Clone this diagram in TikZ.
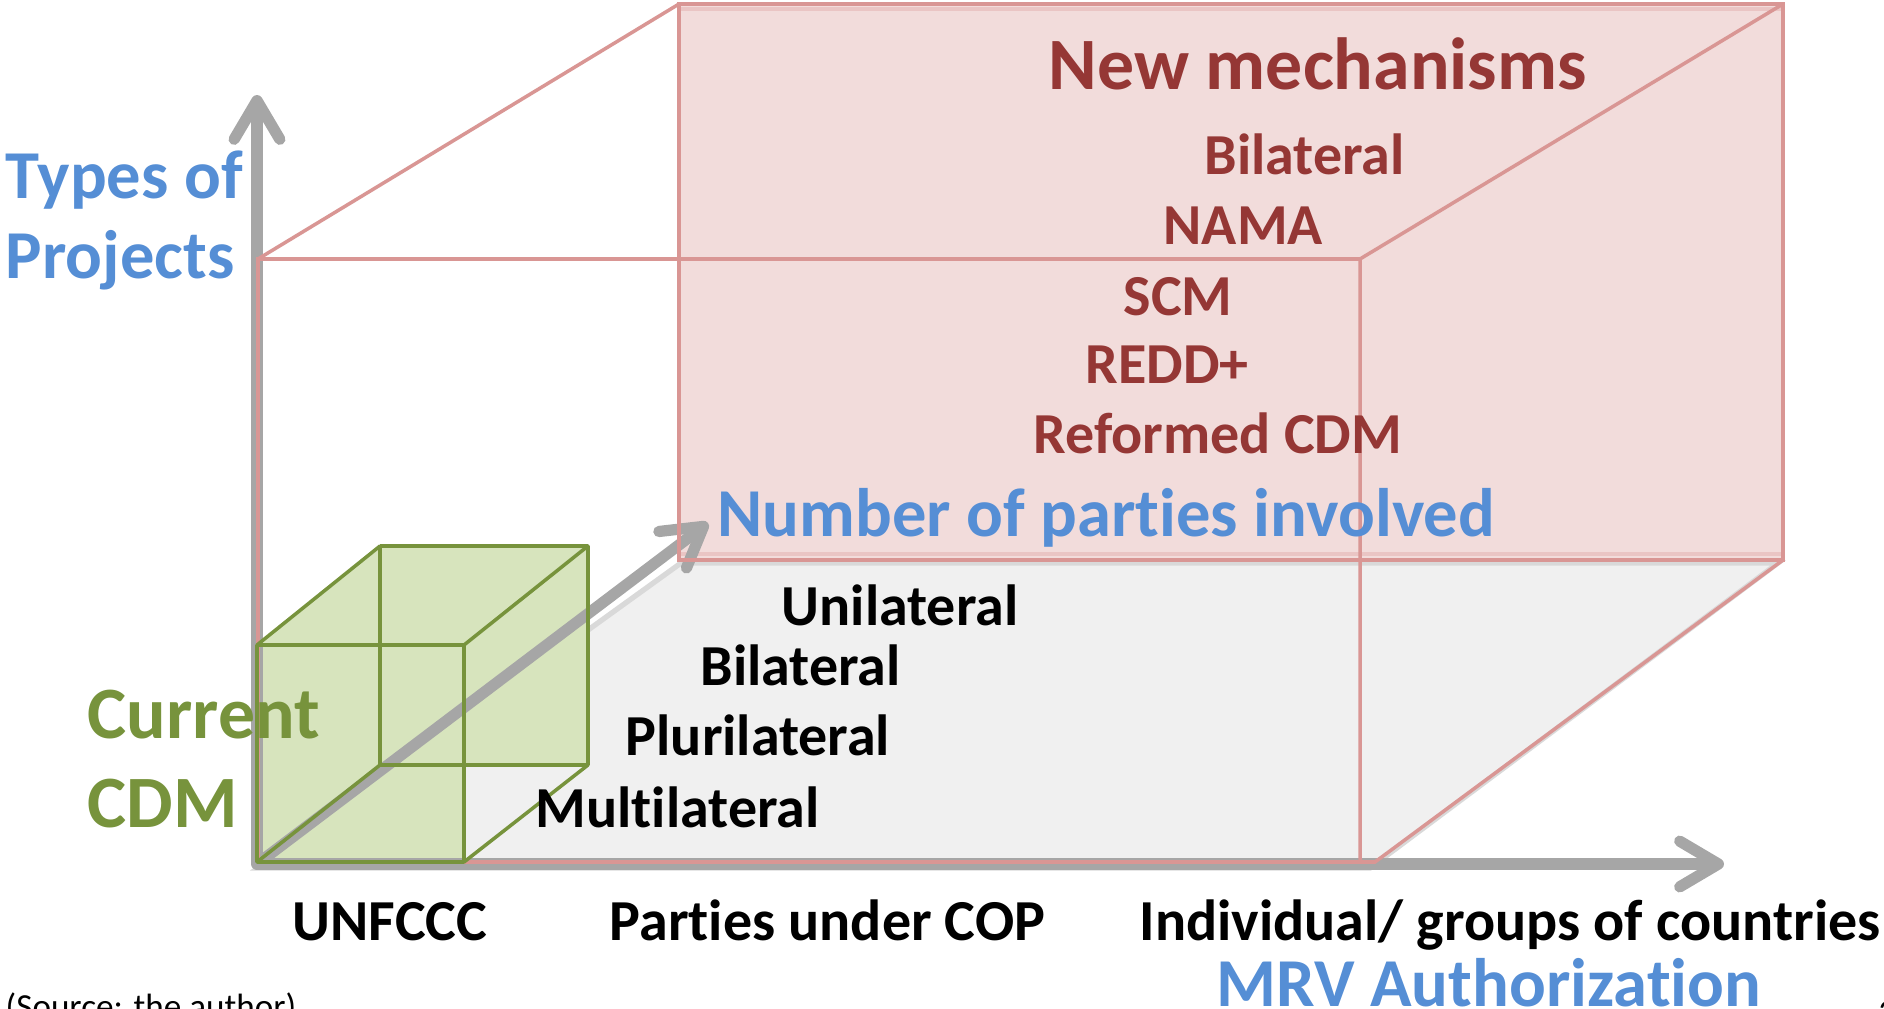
\documentclass[tikz,border=0pt]{standalone}
\usepackage{fontspec}
\setmainfont{Carlito}[RawFeature={-liga;-clig;-calt;-dlig}]
\usetikzlibrary{arrows.meta}
\definecolor{axisgrey}{HTML}{A6A6A6}
\definecolor{boxpink}{HTML}{D99694}
\definecolor{boxfill}{HTML}{F2DCDB}
\definecolor{cdmgreen}{HTML}{77933C}
\definecolor{cdmfill}{HTML}{D7E4BD}
\definecolor{floorfill}{HTML}{F0F0F0}
\definecolor{floorline}{HTML}{D9D9D9}
\definecolor{axisblue}{HTML}{558ED5}
\definecolor{mechred}{HTML}{953735}
\newcommand\nolig{\kern0pt}
\tikzset{
  axis/.style={draw=axisgrey, line width=3.2pt, line cap=round, -{Straight Barb[length=11pt, width=13pt, round]}},
  boxedge/.style={draw=boxpink, line width=1pt},
  cubeedge/.style={draw=cdmgreen, line width=1pt, line join=round},
  txt/.style={inner sep=0pt, anchor=base west, font=\bfseries\fontsize{16.5}{19}\selectfont},
  axislabel/.style={txt, text=axisblue, font=\bfseries\fontsize{19.5}{23}\selectfont},
  mechlabel/.style={txt, text=mechred},
  cdmlabel/.style={txt, text=cdmgreen, font=\bfseries\fontsize{21}{25}\selectfont}
}
\begin{document}
\begin{tikzpicture}[x=0.01cm, y=-0.01cm]
\useasboundingbox (0,0) rectangle (1884,1009);
\coordinate (O) at (257,864);
% big box
\coordinate (bA) at (679,4);    \coordinate (bB) at (1783,4);
\coordinate (bC) at (1783,560); \coordinate (bD) at (679,560);
\coordinate (fA) at (258,259);  \coordinate (fB) at (1360,259);
\coordinate (fC) at (1360,862); \coordinate (fD) at (258,862);
\coordinate (fE) at (1375,862);
% current cdm cube
\coordinate (gA) at (257,645); \coordinate (gB) at (464,645);
\coordinate (gC) at (464,862); \coordinate (gD) at (257,862);
\coordinate (hA) at (380,546); \coordinate (hB) at (588,546);
\coordinate (hC) at (588,765); \coordinate (hD) at (380,765);

\fill[floorfill, draw=floorline, line width=1.5pt] (258,868) -- (681,563) -- (1778,563) -- (1370,868) -- cycle;
\fill[boxfill] (bA) rectangle (bC);
\draw[boxpink!55, line width=1.2pt] (679,9) -- (1783,9) (679,554) -- (1783,554);
\fill[cdmfill] (gD) -- (gA) -- (hA) -- (hB) -- (hC) -- (gB |- hC) -- (gC) -- cycle;

\draw[axis] (O) -- (257,95);
\draw[axis] (O) -- (1724,864);
\draw[axis] (O) -- (708,523);

\draw[boxedge] (bA) rectangle (bC);
\draw[boxedge] (fD) -- (fA) -- (fB) -- (fC) (fA) -- (bA) (fB) -- (bB) (bC) -- (fE) -- (fD);
\draw[cubeedge] (gA) rectangle (gC) (hA) rectangle (hC) (gA) -- (hA) (gB) -- (hB) (gC) -- (hC) (gD) -- (hD);

\node[axislabel] (types) at (5,198) {Types of};
\node[axislabel] (projects) at (5,278) {Projects};
\node[axislabel] (parties) at (717,536) {Number of part\nolig ies involved};
\node[axislabel] (mrv) at (1216,1006) {MRV Authorizat\nolig ion};

\node[mechlabel, font=\bfseries\fontsize{21}{25}\selectfont] (newmech) at (1048,90) {New mechanisms};
\node[mechlabel] (mbilat) at (1204,174) {Bilateral};
\node[mechlabel] (nama) at (1163,244) {NAMA};
\node[mechlabel] (scm) at (1123,315) {SCM};
\node[mechlabel] (redd) at (1085,383) {REDD+};
\node[mechlabel] (reformed) at (1033,453) {Reformed CDM};

\node[txt] (unilat) at (781,625) {Unilateral};
\node[txt] (bilat) at (700,685) {Bilateral};
\node[txt] (plurilat) at (625,755) {Plurilateral};
\node[txt] (multilat) at (535,827) {Mult\nolig ilateral};

\node[cdmlabel] (current) at (87,738) {Current};
\node[cdmlabel] (cdm) at (87,827) {CDM};

\node[txt] (unfccc) at (292,940) {UNFCCC};
\node[txt] (cop) at (609,940) {Parties under COP};
\node[txt] (groups) at (1139,940) {Individual/ groups of countries};

\node[txt, font=\fontsize{10}{12}\selectfont] (source) at (5,1018) {(Source: the author)};
\node[txt, font=\fontsize{10}{12}\selectfont] (pagenum) at (1878,1024) {2};
\end{tikzpicture}
\end{document}
